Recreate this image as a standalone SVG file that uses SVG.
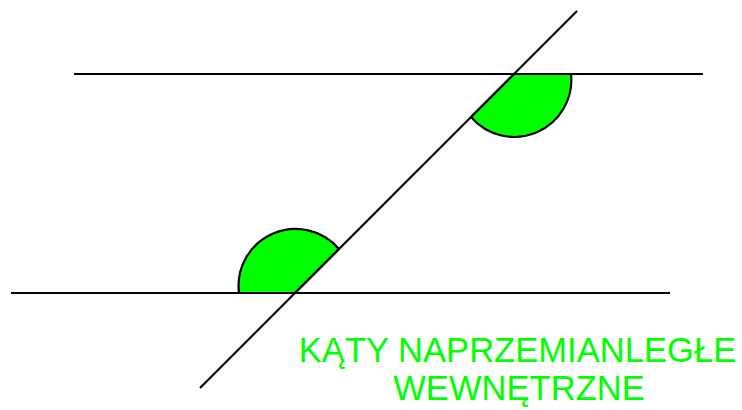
<svg xmlns="http://www.w3.org/2000/svg" width="742" height="410" viewBox="0 0 742 410">
<style>
.ln{stroke:#000;stroke-width:2.2;fill:none}
.sec{fill:#00ff00;stroke:#000;stroke-width:2.2;stroke-linejoin:round}
.lbl{fill:#00ff00;font-family:"Liberation Sans",Arial,sans-serif;font-size:34.6px;text-anchor:middle}
</style>
<rect width="742" height="410" fill="#fff"/>
<g id="angle-upper"><path class="sec" d="M514,74 L571,74 A57,57 0 0,1 471,117 Z"/></g>
<g id="angle-lower"><path class="sec" d="M295,293 L239,293 A57,57 0 0,1 339,249 Z"/></g>
<g id="lines">
<line class="ln" x1="74" y1="74" x2="703" y2="74"/>
<line class="ln" x1="11" y1="293" x2="670" y2="293"/>
<line class="ln" x1="577" y1="11" x2="200" y2="388"/>
</g>
<g id="label">
<text class="lbl" x="517.5" y="362">KĄTY NAPRZEMIANLEGŁE</text>
<text class="lbl" x="519" y="400">WEWNĘTRZNE</text>
</g>
</svg>
